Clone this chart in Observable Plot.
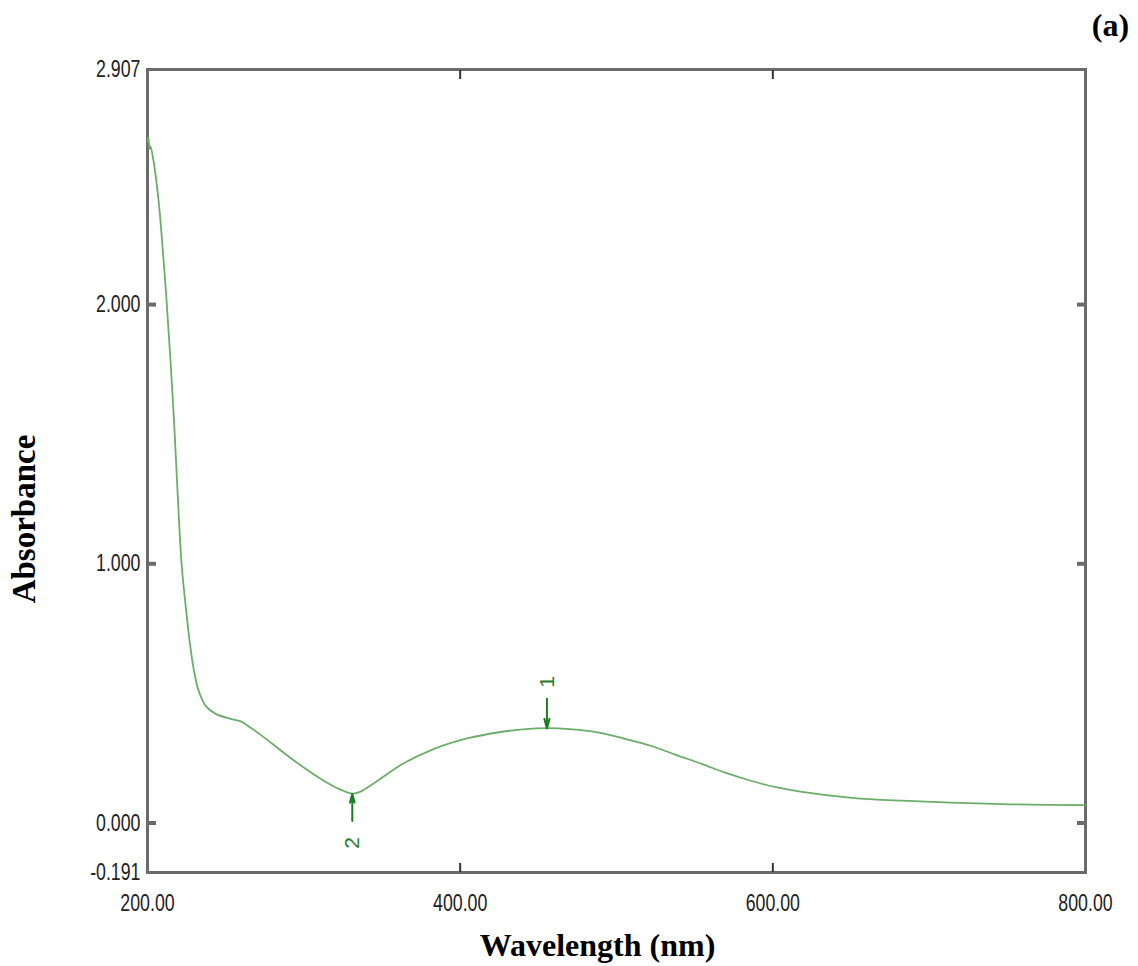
<!DOCTYPE html>
<html>
<head>
<meta charset="utf-8">
<script src="https://cdn.jsdelivr.net/npm/d3@7"></script>
<script src="https://cdn.jsdelivr.net/npm/@observablehq/plot@0.6"></script>
<style>
  html, body { margin: 0; padding: 0; background: #fff; }
  #chart svg { display: block; }
</style>
</head>
<body>
<div id="chart"></div>
<script>
// Spectrum
const wavelength = [200, 200.6, 201.3, 201.9, 203.8, 207.1, 210.3, 212.2, 214.7, 217.3, 219.2, 221.8, 224.4, 226.9, 229.5, 232.7, 237.2, 243.6, 253.2, 259.6, 266, 272.4, 291.7, 310.9, 323.7, 331.4, 337, 341, 352, 362, 383, 405, 426, 440, 455.8, 470, 490.4, 506, 522.4, 538, 554.5, 570, 586.5, 602, 618.6, 650.6, 682.7, 746.8, 800];
const absorbance = [2.63, 2.645, 2.60, 2.61, 2.556, 2.40, 2.17, 2.015, 1.784, 1.513, 1.28, 1.0, 0.838, 0.703, 0.595, 0.51, 0.452, 0.421, 0.402, 0.392, 0.367, 0.34, 0.25, 0.17, 0.128, 0.113, 0.123, 0.138, 0.183, 0.224, 0.285, 0.327, 0.351, 0.361, 0.366, 0.362, 0.347, 0.324, 0.297, 0.263, 0.228, 0.193, 0.162, 0.138, 0.12, 0.097, 0.086, 0.073, 0.069];

// Peak picks
const peakLabels = ["1", "2"];
const peakWavelength = [455.5, 331];
const peakAbsorbance = [0.365, 0.112];
const arrowFrom = [0.479, 0.008];
const labelAt = [0.544, -0.077];

// Axis ticks
const xTicks = [200, 400, 600, 800];
const yTicks = [2.907, 2.0, 1.0, 0.0, -0.191];
const xInnerTicks = [400, 600];
const yInnerTicks = [2.0, 1.0, 0.0];

const spectrum = wavelength.map((w, i) => ({w, a: absorbance[i]}));
const peaks = peakLabels.map((l, i) => ({l, w: peakWavelength[i], a: peakAbsorbance[i], a0: arrowFrom[i], al: labelAt[i]}));

const frameColor = "#6b6b6b";
const serif = "'Liberation Serif', 'Times New Roman', serif";

const chart = Plot.plot({
  width: 1138,
  height: 966,
  marginLeft: 147,
  marginRight: 53,
  marginTop: 69,
  marginBottom: 94,
  style: {fontFamily: "'Liberation Sans', Arial, sans-serif", fontSize: "24px", color: "#222", background: "#fff"},
  x: {domain: [200, 800]},
  y: {domain: [-0.191, 2.907]},
  marks: [
    Plot.frame({stroke: frameColor, strokeWidth: 3}),
    Plot.axisX(xTicks, {anchor: "bottom", tickSize: 0, tickPadding: 21, tickFormat: d => d.toFixed(2), label: null, fill: "#222", className: "ticklab"}),
    Plot.axisY(yTicks, {anchor: "left", tickSize: 0, tickPadding: 7, tickFormat: d => d.toFixed(3), label: null, fill: "#222", className: "ticklab"}),
    Plot.axisX(xInnerTicks, {anchor: "bottom", tickSize: -9, text: null, label: null, stroke: "#333", strokeWidth: 2}),
    Plot.axisX(xInnerTicks, {anchor: "top", tickSize: -9, text: null, label: null, stroke: "#333", strokeWidth: 2}),
    Plot.axisY(yInnerTicks, {anchor: "left", tickSize: -9, text: null, label: null, stroke: frameColor, strokeWidth: 4}),
    Plot.axisY(yInnerTicks, {anchor: "right", tickSize: -9, text: null, label: null, stroke: frameColor, strokeWidth: 4}),
    Plot.line(spectrum, {x: "w", y: "a", stroke: "#6aae6a", strokeWidth: 1.8, curve: "catmull-rom"}),
    Plot.arrow(peaks, {x1: "w", y1: "a0", x2: "w", y2: "a", stroke: "#1e7d1e", strokeWidth: 2, headLength: 10, headAngle: 30}),
    Plot.text(peaks, {x: "w", y: "al", text: "l", rotate: -90, fill: "#2b7a2b", fontSize: 21, fontFamily: "'Liberation Sans', sans-serif"}),
    Plot.text(["Absorbance"], {frameAnchor: "left", textAnchor: "middle", lineAnchor: "middle", dx: -123, dy: 48, rotate: -90, fontFamily: serif, fontWeight: "bold", fontSize: 33, fill: "#000"}),
    Plot.text(["Wavelength (nm)"], {frameAnchor: "bottom", textAnchor: "middle", lineAnchor: "middle", dx: -19, dy: 73, fontFamily: serif, fontWeight: "bold", fontSize: 32, fill: "#000"}),
    Plot.text(["(a)"], {frameAnchor: "top-right", textAnchor: "middle", lineAnchor: "middle", dx: 25, dy: -44, fontFamily: serif, fontWeight: "bold", fontSize: 32, fill: "#000"})
  ]
});
// condensed look of the instrument's tick labels
d3.select(chart).selectAll("g.ticklab text").each(function() {
  const t = this.getAttribute("transform") || "";
  this.setAttribute("transform", t + " scale(0.74,1)");
});
document.getElementById("chart").appendChild(chart);
</script>
</body>
</html>
